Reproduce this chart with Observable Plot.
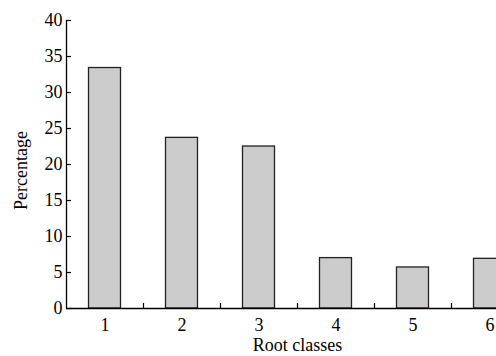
<!DOCTYPE html>
<html>
<head>
<meta charset="utf-8">
<script src="https://cdn.jsdelivr.net/npm/d3@7"></script>
<script src="https://cdn.jsdelivr.net/npm/@observablehq/plot@0.6"></script>
<style>
  html, body { margin: 0; padding: 0; background: #fff; }
  #wrap { width: 496px; height: 356px; overflow: hidden; }
  #wrap svg { max-width: none !important; }
</style>
</head>
<body>
<div id="wrap"></div>
<script>
const categories = ["1", "2", "3", "4", "5", "6"];
const percentages = [33.4, 23.7, 22.5, 7.0, 5.7, 6.9];
const yTicks = [0, 5, 10, 15, 20, 25, 30, 35, 40];

const data = categories.map((c, i) => ({cls: c, pct: percentages[i]}));

const step = 77;
const chart = Plot.plot({
  width: 66 + step * categories.length,
  height: 356,
  marginLeft: 66,
  marginRight: 0,
  marginTop: 20,
  marginBottom: 48,
  style: {fontFamily: "'Liberation Serif', 'Times New Roman', serif", fontSize: "18px", color: "#000", background: "#fff", maxWidth: "none"},
  x: {domain: categories, padding: 0, label: null},
  y: {domain: [0, 40], label: null},
  marks: [
    Plot.barY(data, {x: "cls", y: "pct", fill: "#cccccc", stroke: "#222", strokeWidth: 1.3, insetLeft: 22.5, insetRight: 22.5}),
    Plot.ruleY([0], {stroke: "#000", strokeWidth: 1.3}),
    Plot.ruleX([categories[0]], {dx: -step / 2, y1: 0, y2: 40, stroke: "#000", strokeWidth: 1.3}),
    Plot.tickY(yTicks, {y: d => d, x: () => categories[0], insetRight: step - 5, stroke: "#000", strokeWidth: 1.2}),
    Plot.ruleX(categories.slice(0, -1), {x: d => d, dx: step / 2, y1: 0, y2: 0.7, stroke: "#000", strokeWidth: 1.2}),
    Plot.axisY(yTicks, {ticks: yTicks, tickSize: 0, tickPadding: 4, label: null, fontSize: 18}),
    Plot.axisX({tickSize: 0, tickPadding: 10, label: null, fontSize: 18}),
    Plot.text(["Root classes"], {frameAnchor: "bottom", textAnchor: "middle", lineAnchor: "middle", dx: 0, dy: 37, fontSize: 18}),
    Plot.text(["Percentage"], {frameAnchor: "left", textAnchor: "middle", lineAnchor: "middle", dx: -45, dy: 6, rotate: -90, fontSize: 18})
  ]
});
chart.style.maxWidth = "none";
document.getElementById("wrap").appendChild(chart);
</script>
</body>
</html>
